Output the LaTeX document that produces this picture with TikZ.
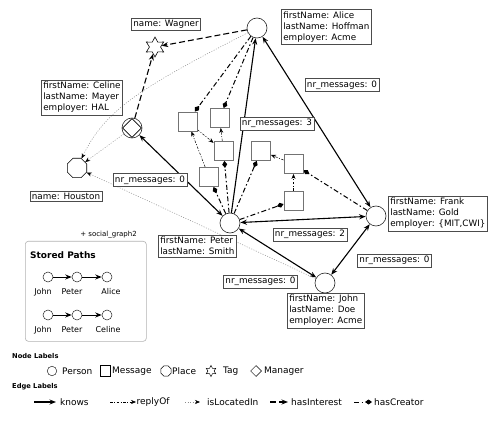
\documentclass[tikz,border=0pt]{standalone}
\usepackage{fontspec}
\setmainfont{DejaVu Sans}
\usetikzlibrary{arrows.meta,shapes.geometric,backgrounds}
\begin{document}
\begin{tikzpicture}[x=1pt,y=-1pt,
 >={Stealth[length=6.5pt,width=5pt]},
 every node/.style={font=\fontsize{8.8}{11}\selectfont},
 person/.style={circle,draw=black!85,line width=0.6pt,minimum size=20pt,inner sep=0pt,fill=white},
 msg/.style={rectangle,draw=black!55,line width=0.9pt,minimum size=19pt,inner sep=0pt,fill=white},
 lbl/.style={draw=black!70,line width=0.6pt,fill=white,align=left,inner sep=2pt},
 knows/.style={line width=1.1pt},
 interest/.style={line width=1.1pt,dash pattern=on 6pt off 3pt,->},
 located/.style={line width=0.5pt,draw=black!45,dash pattern=on 1pt off 1.5pt,-{Stealth[length=5pt,width=4pt,black]}},
 creator/.style={line width=1pt,dash pattern=on 5pt off 2.5pt on 1.5pt off 2.5pt,-{Diamond[length=7pt,width=5pt]}},
 reply/.style={line width=0.5pt,dash pattern=on 2.5pt off 1.5pt on 1pt off 1.5pt,-{Stealth[length=5pt,width=4pt]}},
 legtxt/.style={anchor=west,inner sep=1pt,font=\fontsize{9}{10}\selectfont},
 leghead/.style={anchor=west,inner sep=1pt,font=\bfseries\fontsize{6.7}{8}\selectfont},
 pathtxt/.style={inner sep=0pt,font=\fontsize{8}{9}\selectfont},
]
\useasboundingbox (0,0) rectangle (498,422);

% persons and other nodes
\node[person] (A) at (257,28) {};
\node[person] (P) at (230,223) {};
\node[person] (F) at (376,216) {};
\node[person] (J) at (325,283) {};
\node[person] (C) at (132,128) {};
\node[diamond,draw,minimum size=19pt,inner sep=0pt,line width=0.6pt] (Cd) at (C) {};
\node[regular polygon,regular polygon sides=8,draw,minimum size=21pt,inner sep=0pt,line width=0.6pt,fill=white] (H) at (77,168) {};
\node[star,star points=6,star point ratio=1.8,draw,minimum size=20pt,inner sep=0pt,line width=0.6pt,fill=white] (W) at (155,47) {};

% messages
\node[msg] (M1) at (187.5,121.5) {};
\node[msg] (M2) at (219.5,118) {};
\node[msg] (M3) at (223.5,151) {};
\node[msg] (M4) at (209,177) {};
\node[msg] (M5) at (261,151) {};
\node[msg] (M6) at (293.5,164) {};
\node[msg] (M7) at (293.5,200.5) {};

% property boxes
\node[lbl,anchor=north west] (Abox) at (281,9.5) {firstName: Alice\\lastName: Hoffman\\employer: Acme};
\node[lbl] (Wbox) at (166,24.5) {name: Wagner};
\node[lbl,anchor=north west,fill=none] (Cbox) at (41,80) {firstName: Celine\\lastName: Mayer\\employer: HAL};
\node[lbl] (Hbox) at (66,196.5) {name: Houston};
\node[lbl,anchor=north west] (Pbox) at (158,235) {firstName: Peter\\lastName: Smith};
\node[lbl,anchor=north west] (Fbox) at (388,196) {firstName: Frank\\lastName: Gold\\employer: \{MIT,CWI\}};
\node[lbl,anchor=north west] (Jbox) at (287,293) {firstName: John\\lastName: Doe\\employer: Acme};

\node[lbl] (n1) at (342,85) {nr\_messages: 0};
\node[lbl] (n2) at (277,123.5) {nr\_messages: 3};
\node[lbl] (n3) at (150,180) {nr\_messages: 0};
\node[lbl] (n4) at (310,234.5) {nr\_messages: 2};
\node[lbl] (n5) at (394.5,260.5) {nr\_messages: 0};
\node[lbl] (n6) at (260.5,281.5) {nr\_messages: 0};

\begin{scope}[on background layer]
 % knows
 \draw[knows,->] (P) -- (A);
 \draw[knows,<->] (A) -- (F);
 \draw[knows,<->] (C) -- (P);
 \draw[knows,<->] (F) -- (P);
 \draw[knows,<->] (P) -- (J);
 \draw[knows,<->] (F) -- (J);
 % hasInterest
 \draw[interest] (A) -- (W);
 \draw[interest] (C) -- (W);
 % isLocatedIn
 \draw[located] (A) .. controls (140,88) and (105,110) .. (H);
 \draw[located] (C) -- (H);
 \draw[located] (J) -- (H);
 % hasCreator
 \draw[creator] (A) -- (M1);
 \draw[creator] (A) -- (M2);
 \draw[creator] (P) -- (M4);
 \draw[creator] (P) -- (M3);
 \draw[creator] (P) -- (M5);
 \draw[creator] (P) -- (M7);
 \draw[creator] (F) -- (M6);
 % replyOf
 \draw[reply] (M4) -- (M1);
 \draw[reply] (M1) -- (M3);
 \draw[reply] (M3) -- (M2);
 \draw[reply] (M6) -- (M5);
 \draw[reply] (M7) -- (M6);
\end{scope}

% stored paths
\node[draw=black!30,rounded corners=3pt,line width=0.6pt,minimum width=121pt,minimum height=100pt,anchor=north west,inner sep=0pt] (sp) at (25,241) {};
\node[anchor=east,inner sep=0pt,font=\fontsize{7}{8}\selectfont] (spt) at (137,235) {+ social\_graph2};
\node[anchor=west,inner sep=0pt,font=\bfseries\fontsize{9}{10}\selectfont] (sph) at (30,255) {Stored Paths};
\node[person,minimum size=10pt,line width=0.5pt] (s1) at (48,277) {};
\node[person,minimum size=10pt,line width=0.5pt] (s2) at (77,277) {};
\node[person,minimum size=10pt,line width=0.5pt] (s3) at (107,277) {};
\draw[line width=1pt,->] (s1) -- (s2);
\draw[line width=1pt,->] (s2) -- (s3);
\node[pathtxt] (s1t) at (43,292) {John};
\node[pathtxt] (s2t) at (72,292) {Peter};
\node[pathtxt] (s3t) at (111,292) {Alice};
\node[person,minimum size=10pt,line width=0.5pt] (t1) at (48,315) {};
\node[person,minimum size=10pt,line width=0.5pt] (t2) at (77,315) {};
\node[person,minimum size=10pt,line width=0.5pt] (t3) at (107,315) {};
\draw[line width=1pt,->] (t1) -- (t2);
\draw[line width=1pt,->] (t2) -- (t3);
\node[pathtxt] (t1t) at (43,330) {John};
\node[pathtxt] (t2t) at (72,330) {Peter};
\node[pathtxt] (t3t) at (108,330) {Celine};

% legend: node labels
\node[leghead] (nl) at (11,356) {Node Labels};
\node[person,minimum size=9.5pt,line width=0.5pt] (lp) at (52,371) {};
\node[legtxt] (lpt) at (61,371) {Person};
\node[draw,minimum size=10.5pt,inner sep=0pt,line width=0.6pt] (lm) at (105.5,371) {};
\node[legtxt] (lmt) at (111,371) {Message};
\node[regular polygon,regular polygon sides=8,draw,minimum size=11pt,inner sep=0pt,line width=0.5pt] (lpl) at (166,371) {};
\node[legtxt] (lplt) at (171,371) {Place};
\node[star,star points=6,star point ratio=1.8,draw,minimum size=11pt,inner sep=0pt,line width=0.5pt] (lt) at (211,371) {};
\node[legtxt] (ltt) at (222,371) {Tag};
\node[diamond,draw,minimum size=11pt,inner sep=0pt,line width=0.5pt] (ld) at (256,371) {};
\node[legtxt] (ldt) at (263,371) {Manager};

% legend: edge labels
\node[leghead] (el) at (11,387) {Edge Labels};
\coordinate (k1) at (34,402); \coordinate (k2) at (56,402);
\draw[knows,->] (k1) -- (k2);
\node[legtxt] (kt) at (59,402) {knows};
\coordinate (r1) at (110,402); \coordinate (r2) at (136,402);
\draw[reply] (r1) -- (r2);
\node[legtxt] (rt) at (135.5,402) {replyOf};
\coordinate (l1) at (185,402); \coordinate (l2) at (200,402);
\draw[located] (l1) -- (l2);
\node[legtxt] (lt2) at (206,402) {isLocatedIn};
\coordinate (i1) at (270,402); \coordinate (i2) at (288,402);
\draw[interest] (i1) -- (i2);
\node[legtxt] (it) at (290,402) {hasInterest};
\coordinate (c1) at (354,402); \coordinate (c2) at (372,402);
\draw[creator] (c1) -- (c2);
\node[legtxt] (ct) at (373,402) {hasCreator};
\end{tikzpicture}
\end{document}
